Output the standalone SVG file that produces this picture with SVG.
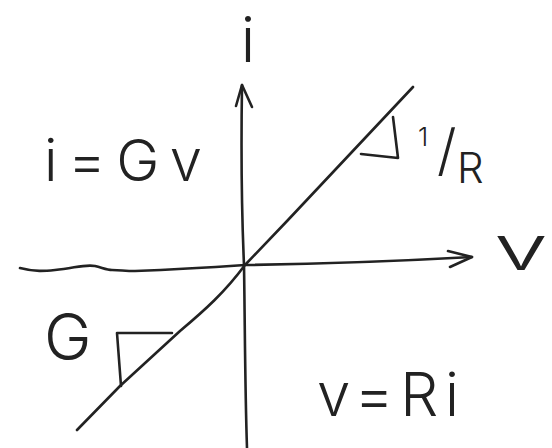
<svg xmlns="http://www.w3.org/2000/svg" width="552" height="448" viewBox="0 0 552 448">
  <style>
    .ln { fill: none; stroke: #222; stroke-width: 2.6; stroke-linecap: round; stroke-linejoin: round; }
    .lbl { font-family: Inter, "Liberation Sans", Arial, sans-serif; font-weight: 300; fill: #222; }
  </style>
  <rect width="552" height="448" fill="#ffffff"/>
  <g id="axes">
    <path class="ln" d="M20,268 C35,272 45,271 55,270 C75,268 85,264 95,266 C103,268 107,270 112,270 C120,270 125,271 135,271 C160,270 200,268 245,265 C320,264 400,261 472,257"/>
    <path class="ln" d="M448,251 L472,257 L450,267"/>
    <path class="ln" d="M242,85 C241,150 242,220 244,265 C245,330 245,390 247,448"/>
    <path class="ln" d="M236,106 L242,85 L252,107"/>
  </g>
  <g id="characteristic">
    <path class="ln" d="M77,430 L120,386 L180,331 C205,310 225,292 245,265 L288,220 L413,87"/>
  </g>
  <g id="slope-triangles">
    <path class="ln" d="M393,117 L398,158 L361,154"/>
    <path class="ln" d="M172,333 L117,333 L121,386"/>
  </g>
  <g id="labels">
    <text class="lbl" x="248" y="62" font-size="62" text-anchor="middle">i</text>
    <text class="lbl" x="494" y="270" font-size="62" textLength="54" lengthAdjust="spacingAndGlyphs">v</text>
    <text class="lbl" x="44" y="181" font-size="58" textLength="158" lengthAdjust="spacing">i=Gv</text>
    <text class="lbl" x="317" y="416" font-size="60" textLength="142" lengthAdjust="spacing">v=Ri</text>
    <text class="lbl" x="44" y="360" font-size="64">G</text>
    <text class="lbl" font-size="42"><tspan x="418" y="146" font-size="26">1</tspan><tspan x="437" y="170" font-size="56">/</tspan><tspan x="457" y="183">R</tspan></text>
  </g>
</svg>
